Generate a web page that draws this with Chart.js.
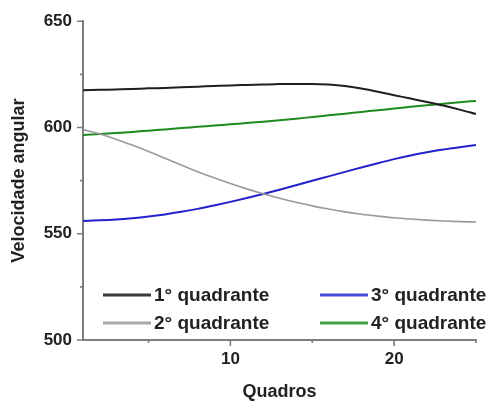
<!DOCTYPE html>
<html>
<head>
<meta charset="utf-8">
<script src="https://cdn.jsdelivr.net/npm/chart.js@4.4.0/dist/chart.umd.min.js"></script>
<style>
  html, body { margin: 0; padding: 0; background: #ffffff; }
  #wrap { width: 491px; height: 403px; position: relative; }
</style>
</head>
<body>
<div id="wrap"><canvas id="c" width="491" height="403"></canvas></div>
<script>
const frames = [1,2,3,4,5,6,7,8,9,10,11,12,13,14,15,16,17,18,19,20,21,22,23,24,25];
const q1 = [617.5,617.7,617.9,618.1,618.4,618.6,618.9,619.2,619.5,619.8,620.0,620.2,620.4,620.5,620.5,620.2,619.5,618.3,616.8,615.2,613.6,612.0,610.3,608.4,606.3];
const q2 = [599.0,597.0,594.5,591.7,588.7,585.5,582.3,579.2,576.3,573.6,571.1,568.8,566.7,564.8,563.1,561.6,560.3,559.2,558.3,557.5,556.9,556.4,556.0,555.7,555.5];
const q3 = [556.0,556.3,556.7,557.3,558.1,559.1,560.3,561.7,563.3,565.0,566.8,568.7,570.7,572.8,574.9,577.0,579.1,581.2,583.2,585.1,586.8,588.3,589.6,590.7,591.7];
const q4 = [596.4,596.9,597.4,597.9,598.5,599.1,599.7,600.3,600.9,601.5,602.1,602.7,603.4,604.1,604.9,605.7,606.5,607.3,608.1,608.9,609.7,610.5,611.2,611.9,612.5];
const seriesNames = ['1° quadrante','2° quadrante','3° quadrante','4° quadrante'];
const xMajorTicks = [10,20];
const xMinorTicks = [5,15,25];
const yMajorTicks = [500,550,600,650];
const yMinorTicks = [525,575,625];

const lineColors = ['#1e1e1e','#9a9a9a','#2222cc','#1f8a1f'];
const legendColors = ['#3a3a3a','#a8a8a8','#4a4ade','#45a045'];
const lineWidths = [2,1.6,2,2];
const seriesData = [q1,q2,q3,q4];

const AXIS = '#7d7d7d';
const FONT = "'Liberation Sans', Arial, Helvetica, sans-serif";

const tickMarks = {
  id: 'tickMarks',
  afterDraw(chart) {
    const ctx = chart.ctx;
    const xs = chart.scales.x, ys = chart.scales.y;
    const ca = chart.chartArea;
    ctx.save();
    ctx.strokeStyle = AXIS;
    ctx.lineWidth = 1.6;
    ctx.beginPath();
    yMajorTicks.forEach(v => { const p = ys.getPixelForValue(v); ctx.moveTo(ca.left, p); ctx.lineTo(ca.left - 6, p); });
    yMinorTicks.forEach(v => { const p = ys.getPixelForValue(v); ctx.moveTo(ca.left, p); ctx.lineTo(ca.left - 3, p); });
    xMajorTicks.forEach(v => { const p = xs.getPixelForValue(v); ctx.moveTo(p, ca.bottom); ctx.lineTo(p, ca.bottom + 6); });
    xMinorTicks.forEach(v => { const p = xs.getPixelForValue(v); ctx.moveTo(p, ca.bottom); ctx.lineTo(p, ca.bottom + 3); });
    ctx.stroke();
    ctx.restore();
  }
};

const insideLegend = {
  id: 'insideLegend',
  afterDatasetsDraw(chart) {
    const ctx = chart.ctx;
    const ca = chart.chartArea;
    const cols = [ca.left + 20, ca.left + 237];
    const rows = [ca.bottom - 45, ca.bottom - 17];
    ctx.save();
    ctx.font = 'bold 19px ' + FONT;
    ctx.textBaseline = 'middle';
    ctx.fillStyle = '#222222';
    chart.data.datasets.forEach((ds, i) => {
      const cx = cols[Math.floor(i / 2)];
      const cy = rows[i % 2];
      ctx.strokeStyle = legendColors[i];
      ctx.lineWidth = 3;
      ctx.beginPath();
      ctx.moveTo(cx, cy);
      ctx.lineTo(cx + 48, cy);
      ctx.stroke();
      ctx.fillText(ds.label, cx + 51, cy + 1);
    });
    ctx.restore();
  }
};

const datasets = seriesData.map((d, i) => ({
  label: seriesNames[i],
  data: frames.map((f, j) => ({x: f, y: d[j]})),
  borderColor: lineColors[i],
  borderWidth: lineWidths[i],
  pointRadius: 0,
  fill: false,
  cubicInterpolationMode: 'monotone'
}));

new Chart(document.getElementById('c'), {
  type: 'line',
  data: { datasets },
  options: {
    responsive: false,
    animation: false,
    layout: { padding: { left: 0, right: 15, top: 21, bottom: 0 } },
    plugins: { legend: { display: false }, tooltip: { enabled: false } },
    scales: {
      x: {
        type: 'linear',
        min: 1, max: 25,
        afterBuildTicks(s) { s.ticks = xMajorTicks.map(v => ({value: v})); },
        afterFit(s) { s.height = 63; },
        grid: { display: false, drawTicks: false },
        border: { display: true, color: AXIS, width: 2 },
        ticks: { color: '#222', padding: 9, font: { family: FONT, size: 17, weight: 'bold' } },
        title: { display: true, text: 'Quadros', color: '#222', padding: { top: 0, bottom: 0 }, font: { family: FONT, size: 18, weight: 'bold' } }
      },
      y: {
        type: 'linear',
        min: 500, max: 650,
        afterBuildTicks(s) { s.ticks = yMajorTicks.map(v => ({value: v})); },
        afterFit(s) { s.width = 83; },
        grid: { display: false, drawTicks: false },
        border: { display: true, color: AXIS, width: 2 },
        ticks: { color: '#222', padding: 11, font: { family: FONT, size: 17, weight: 'bold' } },
        title: { display: true, text: 'Velocidade angular', color: '#222', padding: { top: 8, bottom: 0 }, font: { family: FONT, size: 18, weight: 'bold' } }
      }
    }
  },
  plugins: [tickMarks, insideLegend]
});
</script>
</body>
</html>
